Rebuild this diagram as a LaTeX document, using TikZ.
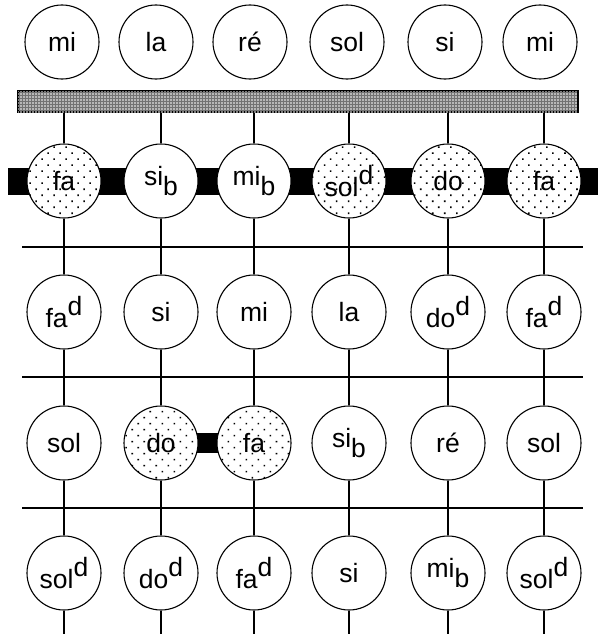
\documentclass[tikz,border=0pt]{standalone}
\usepackage{fontspec}
\setmainfont{Liberation Sans}
\usetikzlibrary{patterns.meta}
\newcommand\updd{\raisebox{0.45em}{d}}
\newcommand\dnbb{\raisebox{-0.36em}{b}}
\pgfdeclarelayer{background}
\pgfsetlayers{background,main}
\begin{document}
\begin{tikzpicture}[x=1pt,y=-1pt,
  note/.style={circle,draw,line width=1.1pt,minimum size=74pt,inner sep=0pt,fill=white,
    font=\fontsize{26.5}{28}\selectfont},
  dnote/.style={note,postaction={pattern={Dots[distance=8.5pt,angle=45,radius=1.1pt]}}},
  link/.style={line width=1.4pt},
  blackbar/.style={line width=27pt},
  stipplebar/.style={draw,line width=1.1pt,fill=black!55,
    postaction={pattern={Dots[distance=3pt,radius=0.8pt]},pattern color=white},
    minimum width=560pt,minimum height=21pt,inner sep=0pt},
]
\useasboundingbox (0,0) rectangle (598,634);
% top row
\foreach \i/\x/\t in {1/62/mi,2/156/la,3/250/ré,4/347/sol,5/445/si,6/540/mi}
  \node[note] (a\i) at (\x,42) {\t};
% stippled bar
\node[stipplebar] (bar) at (298,101.5) {};
% row 2
\foreach \i/\x/\s/\t in {1/64/dnote/fa,2/161/note/si\dnbb,3/254/note/mi\dnbb,
    4/349/dnote/sol\updd,5/448/dnote/do,6/544/dnote/fa}
  \node[\s] (b\i) at (\x,181) {\t};
% row 3
\foreach \i/\x/\s/\t in {1/64/note/fa\updd,2/161/note/si,3/254/note/mi,
    4/349/note/la,5/448/note/do\updd,6/544/note/fa\updd}
  \node[\s] (c\i) at (\x,312) {\t};
% row 4
\foreach \i/\x/\s/\t in {1/64/note/sol,2/161/dnote/do,3/254/dnote/fa,
    4/349/note/si\dnbb,5/448/note/ré,6/544/note/sol}
  \node[\s] (d\i) at (\x,443) {\t};
% row 5
\foreach \i/\x/\s/\t in {1/64/note/sol\updd,2/161/note/do\updd,3/254/note/fa\updd,
    4/349/note/si,5/448/note/mi\dnbb,6/544/note/sol\updd}
  \node[\s] (e\i) at (\x,573) {\t};
% coordinates
\coordinate (bl) at (8,181);
\coordinate (br) at (598,181);
\coordinate (h1l) at (22,247); \coordinate (h1r) at (583,247);
\coordinate (h2l) at (22,377); \coordinate (h2r) at (583,377);
\coordinate (h3l) at (22,508); \coordinate (h3r) at (583,508);
\coordinate (bot) at (0,634);
\begin{pgfonlayer}{background}
  \draw[blackbar] (bl) -- (br);
  \draw[line width=20pt] (d2.center) -- (d3.center);
  \draw[link] (h1l) -- (h1r);
  \draw[link] (h2l) -- (h2r);
  \draw[link] (h3l) -- (h3r);
\end{pgfonlayer}
\foreach \i in {1,...,6} {
  \draw[link] (bar.south -| b\i) -- (b\i);
  \draw[link] (b\i) -- (c\i);
  \draw[link] (c\i) -- (d\i);
  \draw[link] (d\i) -- (e\i);
  \draw[link] (e\i) -- (e\i |- bot);
}
\end{tikzpicture}
\end{document}
